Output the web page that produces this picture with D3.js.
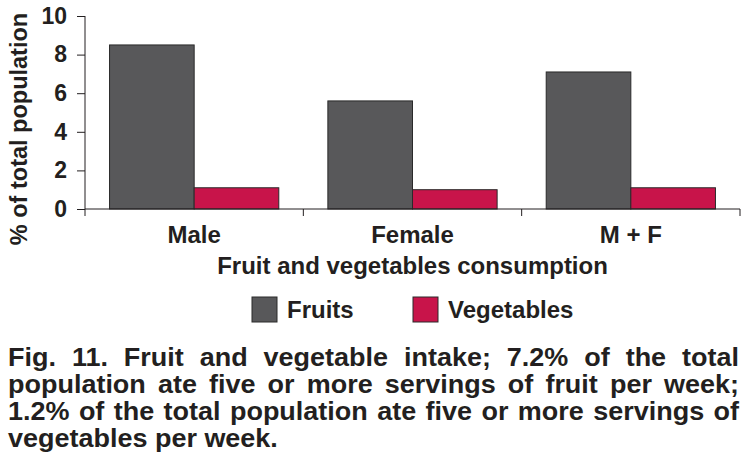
<!DOCTYPE html>
<html>
<head>
<meta charset="utf-8">
<script src="https://cdn.jsdelivr.net/npm/d3@7"></script>
<style>
  body { margin: 0; background: #fff; }
  text { font-family: "Liberation Sans", Arial, sans-serif; font-weight: bold; fill: #231f20; }
</style>
</head>
<body>
<div id="chart"></div>
<script>
// Chart data
const groups = ["Male", "Female", "M + F"];
const seriesNames = ["Fruits", "Vegetables"];
const fruits = [8.5, 5.6, 7.1];
const vegetables = [1.1, 1.0, 1.1];
const yTicks = [0, 2, 4, 6, 8, 10];
const captionLines = [
  "Fig. 11. Fruit and vegetable intake; 7.2% of the total",
  "population ate five or more servings of fruit per week;",
  "1.2% of the total population ate five or more servings of",
  "vegetables per week."
];

const W = 752, H = 468;
const plot = { left: 85, right: 740, top: 16, bottom: 209 };

const svg = d3.select("#chart")
  .append("svg")
  .attr("width", W)
  .attr("height", H);

// Scales
const x0 = d3.scaleBand()
  .domain(groups)
  .range([plot.left, plot.right])
  .padding(0);

const x1 = d3.scaleBand()
  .domain(seriesNames)
  .range([0, x0.bandwidth()])
  .paddingInner(0)
  .paddingOuter(0.29);

const y = d3.scaleLinear()
  .domain([0, 10])
  .range([plot.bottom, plot.top]);

const color = d3.scaleOrdinal()
  .domain(seriesNames)
  .range(["#58585a", "#c8144a"]);

const rows = groups.map((g, i) => ({ group: g, values: [
  { key: "Fruits", value: fruits[i] },
  { key: "Vegetables", value: vegetables[i] }
]}));

// Bars
svg.append("g")
  .selectAll("g")
  .data(rows)
  .join("g")
  .attr("transform", d => `translate(${x0(d.group)},0)`)
  .selectAll("rect")
  .data(d => d.values)
  .join("rect")
  .attr("x", d => x1(d.key))
  .attr("y", d => y(d.value))
  .attr("width", x1.bandwidth())
  .attr("height", d => y(0) - y(d.value))
  .attr("fill", d => color(d.key))
  .attr("stroke", "#2a2a2a")
  .attr("stroke-width", 1);

// Y axis
const yAxis = svg.append("g")
  .attr("transform", `translate(${plot.left},0)`)
  .call(d3.axisLeft(y).tickValues(yTicks).tickSize(8).tickPadding(10));
yAxis.select(".domain").attr("stroke", "#231f20").attr("d", `M0,${plot.top}V${plot.bottom}`);
yAxis.selectAll(".tick line").attr("stroke", "#231f20");
yAxis.selectAll(".tick text")
  .attr("fill", "#231f20")
  .style("font-size", "23px");

// X axis: ticks at band boundaries
const xAxis = svg.append("g")
  .attr("transform", `translate(0,${plot.bottom})`);
xAxis.append("path")
  .attr("d", `M${plot.left},0H${plot.right}`)
  .attr("stroke", "#231f20")
  .attr("fill", "none");
xAxis.selectAll("line")
  .data(groups.map(g => x0(g)).concat([plot.right]))
  .join("line")
  .attr("x1", d => d).attr("x2", d => d)
  .attr("y1", 0).attr("y2", 7)
  .attr("stroke", "#231f20");
xAxis.selectAll("text")
  .data(groups)
  .join("text")
  .attr("x", d => x0(d) + x0.bandwidth() / 2)
  .attr("y", 34)
  .attr("text-anchor", "middle")
  .style("font-size", "24px")
  .text(d => d);

// Axis titles
svg.append("text")
  .attr("x", (plot.left + plot.right) / 2)
  .attr("y", 274)
  .attr("text-anchor", "middle")
  .style("font-size", "24px")
  .text("Fruit and vegetables consumption");

svg.append("text")
  .attr("transform", "translate(27,129) rotate(-90)")
  .attr("text-anchor", "middle")
  .style("font-size", "23.5px")
  .text("% of total population");

// Legend
const legendX = [252, 413];
const legend = svg.append("g");
legend.selectAll("rect")
  .data(seriesNames)
  .join("rect")
  .attr("x", (d, i) => legendX[i])
  .attr("y", 297)
  .attr("width", 25)
  .attr("height", 25)
  .attr("fill", d => color(d))
  .attr("stroke", "#2a2a2a");
legend.selectAll("text")
  .data(seriesNames)
  .join("text")
  .attr("x", (d, i) => legendX[i] + 35)
  .attr("y", 318)
  .style("font-size", "24px")
  .text(d => d);

// Caption: condensed by a horizontal scale, justified except the last line
const capLeft = 8, capRight = 739, lastLineWidth = 270;
const caption = svg.append("g");
const capTexts = captionLines.map(line => caption.append("text")
  .style("font-size", "26px")
  .text(line));
const sx = lastLineWidth / capTexts[3].node().getComputedTextLength();
capTexts.forEach((t, i) => {
  t.attr("transform", `translate(${capLeft},${366 + i * 27}) scale(${sx},1)`);
  if (i < captionLines.length - 1) {
    const natural = t.node().getComputedTextLength();
    const spaces = captionLines[i].split(" ").length - 1;
    t.attr("word-spacing", ((capRight - capLeft) / sx - natural) / spaces);
  }
});
</script>
</body>
</html>
